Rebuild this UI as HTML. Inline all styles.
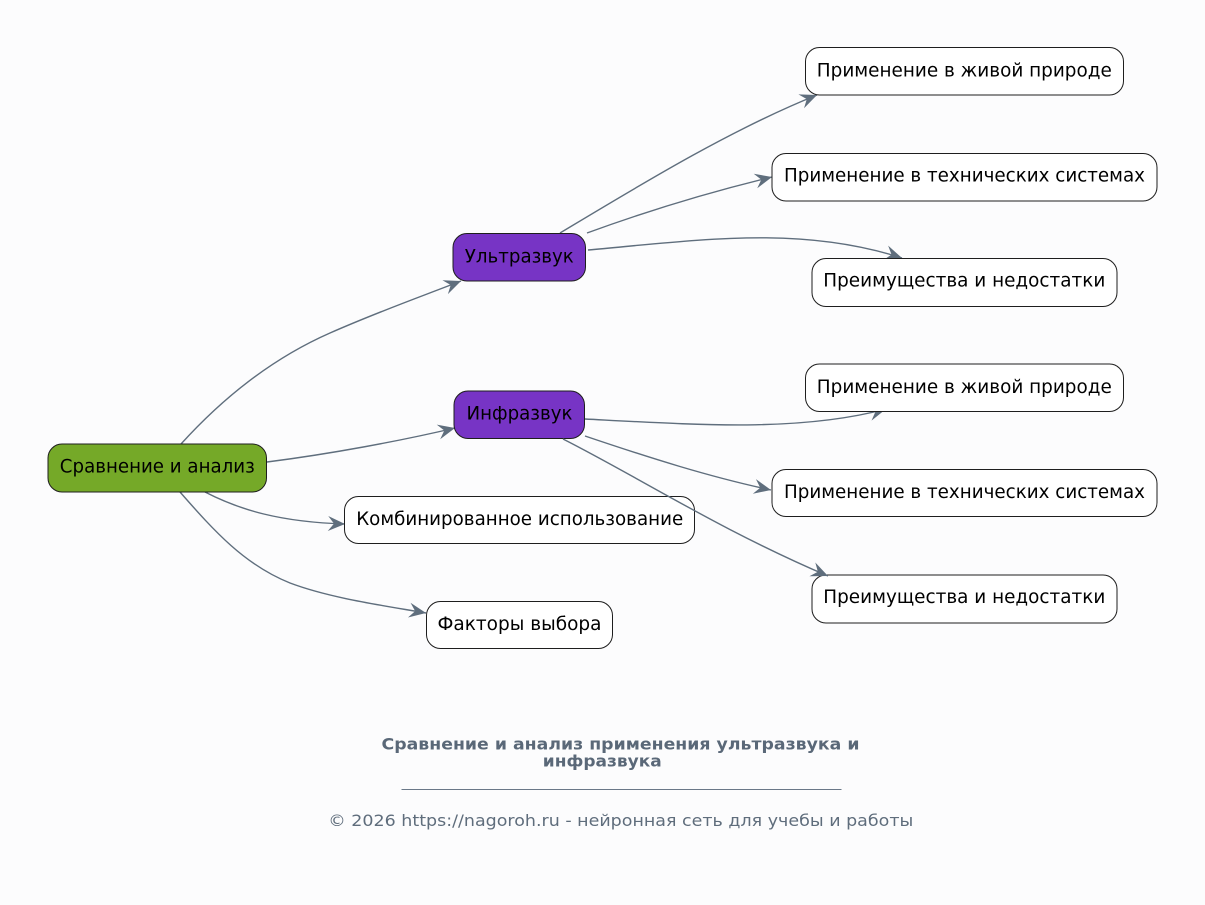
<!DOCTYPE html>
<html>
<head>
<meta charset="utf-8">
<style>
  html, body { margin:0; padding:0; background:#fcfcfd; }
  body { width:1205px; height:905px; overflow:hidden; }
  svg { display:block; }
  .n { font-family:"DejaVu Sans","Liberation Sans",sans-serif; font-size:18.6px; fill:#000; }
  .e { fill:none; stroke:#5f6e7d; stroke-width:1.4; }
</style>
</head>
<body>
<svg width="1205" height="905" viewBox="0 0 1205 905" xmlns="http://www.w3.org/2000/svg">
  <defs>
    <marker id="ar" markerUnits="userSpaceOnUse" viewBox="-18 -9 19 18" markerWidth="19" markerHeight="18" refX="0" refY="0" orient="auto" overflow="visible">
      <path d="M0,0 L-17,-7.5 L-11,0 L-17,7.5 Z" fill="#5f6e7d"/>
    </marker>
  </defs>
  <rect x="0" y="0" width="1205" height="905" fill="#fcfcfd"/>

  <!-- edges -->
  <path class="e" marker-end="url(#ar)" d="M181,444 C230,390 280,355 330,333 C380,311 420,297 461,281"/>
  <path class="e" marker-end="url(#ar)" d="M267,462 C330,454 400,441 455,428"/>
  <path class="e" marker-end="url(#ar)" d="M205,492 C240,510 280,522 345,524"/>
  <path class="e" marker-end="url(#ar)" d="M180,492 C215,532 245,565 290,583 C330,598 380,605 426,613"/>

  <path class="e" marker-end="url(#ar)" d="M560,233 C640,185 730,130 817,95"/>
  <path class="e" marker-end="url(#ar)" d="M587,233 C650,210 710,192 772,177"/>
  <path class="e" marker-end="url(#ar)" d="M588,250 C700,240 800,225 902,258"/>

  <path class="e" marker-end="url(#ar)" d="M585,419 C700,425 800,432 886,409"/>
  <path class="e" marker-end="url(#ar)" d="M585,436 C650,458 710,477 771,490"/>

  <!-- nodes -->
  <rect x="48" y="444" width="218.5" height="48" rx="14" ry="14" fill="#75a928" stroke="#1e1e1e" stroke-width="1"/>
  <text class="n" x="157.3" y="472.7" text-anchor="middle" textLength="195" lengthAdjust="spacingAndGlyphs">Сравнение и анализ</text>

  <rect x="453" y="233.5" width="132.5" height="47.5" rx="14" ry="14" fill="#7734c5" stroke="#1e1e1e" stroke-width="1"/>
  <text class="n" x="519.3" y="262.3" text-anchor="middle" textLength="109" lengthAdjust="spacingAndGlyphs">Ультразвук</text>

  <rect x="454" y="391" width="130.5" height="47.5" rx="14" ry="14" fill="#7734c5" stroke="#1e1e1e" stroke-width="1"/>
  <text class="n" x="519.5" y="419.7" text-anchor="middle" textLength="106" lengthAdjust="spacingAndGlyphs">Инфразвук</text>

  <rect x="344.5" y="496.5" width="350" height="47" rx="14" ry="14" fill="#ffffff" stroke="#1e1e1e" stroke-width="1"/>
  <text class="n" x="519.7" y="525" text-anchor="middle" textLength="327" lengthAdjust="spacingAndGlyphs">Комбинированное использование</text>

  <rect x="426.5" y="601.5" width="186" height="47" rx="14" ry="14" fill="#ffffff" stroke="#1e1e1e" stroke-width="1"/>
  <text class="n" x="519.5" y="630" text-anchor="middle" textLength="164" lengthAdjust="spacingAndGlyphs">Факторы выбора</text>

  <!-- Ultrasound children -->
  <rect x="805.5" y="47.5" width="318" height="47.5" rx="14" ry="14" fill="#ffffff" stroke="#1e1e1e" stroke-width="1"/>
  <text class="n" x="964.3" y="76.7" text-anchor="middle" textLength="295" lengthAdjust="spacingAndGlyphs">Применение в живой природе</text>

  <rect x="772" y="153.5" width="385" height="47.5" rx="14" ry="14" fill="#ffffff" stroke="#1e1e1e" stroke-width="1"/>
  <text class="n" x="964.5" y="181.7" text-anchor="middle" textLength="361" lengthAdjust="spacingAndGlyphs">Применение в технических системах</text>

  <rect x="812" y="258.5" width="305" height="48" rx="14" ry="14" fill="#ffffff" stroke="#1e1e1e" stroke-width="1"/>
  <text class="n" x="964.3" y="286.7" text-anchor="middle" textLength="282" lengthAdjust="spacingAndGlyphs">Преимущества и недостатки</text>

  <!-- Infrasound children -->
  <rect x="805.5" y="364" width="318" height="47.5" rx="14" ry="14" fill="#ffffff" stroke="#1e1e1e" stroke-width="1"/>
  <text class="n" x="964.3" y="392.9" text-anchor="middle" textLength="295" lengthAdjust="spacingAndGlyphs">Применение в живой природе</text>

  <rect x="772" y="469.5" width="385" height="47" rx="14" ry="14" fill="#ffffff" stroke="#1e1e1e" stroke-width="1"/>
  <text class="n" x="964.5" y="497.9" text-anchor="middle" textLength="361" lengthAdjust="spacingAndGlyphs">Применение в технических системах</text>

  <rect x="812" y="575" width="305" height="48" rx="14" ry="14" fill="#ffffff" stroke="#1e1e1e" stroke-width="1"/>
  <text class="n" x="964.3" y="603" text-anchor="middle" textLength="282" lengthAdjust="spacingAndGlyphs">Преимущества и недостатки</text>

  <!-- edge drawn over the Комбинированное box corner -->
  <path class="e" marker-end="url(#ar)" d="M563,439 C640,478 720,530 828,576"/>

  <!-- title & footer -->
  <text x="620.5" y="749.3" text-anchor="middle" font-family="DejaVu Sans, Liberation Sans, sans-serif" font-size="16" font-weight="bold" fill="#5a6878" textLength="478" lengthAdjust="spacingAndGlyphs">Сравнение и анализ применения ультразвука и</text>
  <text x="602.3" y="766.7" text-anchor="middle" font-family="DejaVu Sans, Liberation Sans, sans-serif" font-size="16" font-weight="bold" fill="#5a6878" textLength="119" lengthAdjust="spacingAndGlyphs">инфразвука</text>
  <line x1="401.5" y1="789.5" x2="841.5" y2="789.5" stroke="#6a7888" stroke-width="1"/>
  <text x="620.8" y="826" text-anchor="middle" font-family="DejaVu Sans, Liberation Sans, sans-serif" font-size="16" fill="#5f6d7c" textLength="585" lengthAdjust="spacingAndGlyphs">© 2026 https://nagoroh.ru - нейронная сеть для учебы и работы</text>
</svg>
</body>
</html>
